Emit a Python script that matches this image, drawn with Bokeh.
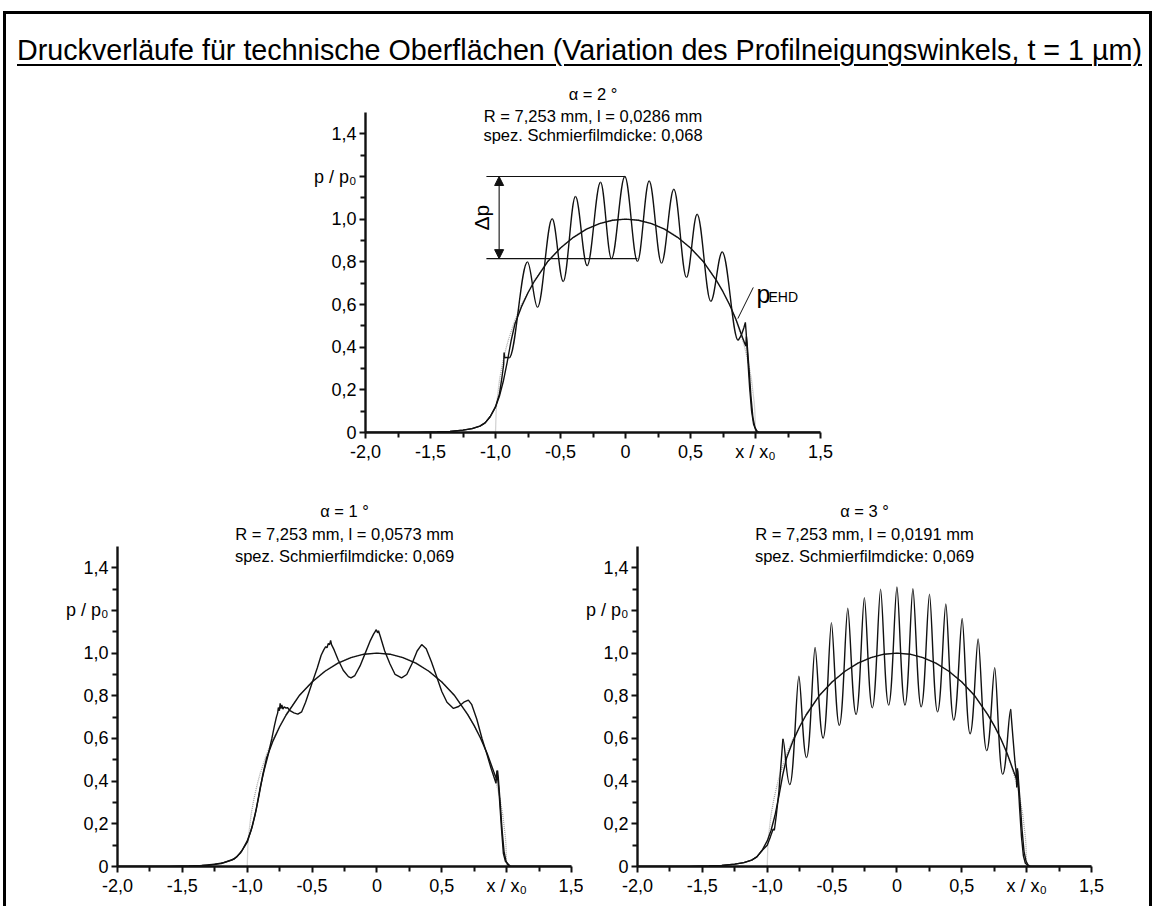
import numpy as np
from bokeh.plotting import figure
from bokeh.layouts import column, row
from bokeh.models import Range1d, FixedTicker, Label, Arrow, NormalHead, Div
from bokeh.embed import file_html
from bokeh.resources import INLINE

# ---------------- data ----------------
TITLE = "Druckverläufe für technische Oberflächen (Variation des Profilneigungswinkels, t = 1 µm)"

x_ticks = [-2.0, -1.5, -1.0, -0.5, 0.0, 0.5, 1.0, 1.5]
x_tick_labels = ["-2,0", "-1,5", "-1,0", "-0,5", "0", "0,5", "x / x₀", "1,5"]
x_minor_ticks = [-1.75, -1.25, -0.75, -0.25, 0.25, 0.75, 1.25]
y_ticks = [0.0, 0.2, 0.4, 0.6, 0.8, 1.0, 1.2, 1.4]
y_tick_labels = ["0", "0,2", "0,4", "0,6", "0,8", "1,0", "p / p₀", "1,4"]
y_minor_ticks = [0.1, 0.3, 0.5, 0.7, 0.9, 1.1, 1.3]

panel_text_a2 = ["α = 2 °", "R = 7,253 mm, l = 0,0286 mm", "spez. Schmierfilmdicke: 0,068"]
panel_text_a1 = ["α = 1 °", "R = 7,253 mm, l = 0,0573 mm", "spez. Schmierfilmdicke: 0,069"]
panel_text_a3 = ["α = 3 °", "R = 7,253 mm, l = 0,0191 mm", "spez. Schmierfilmdicke: 0,069"]

# Hertz pressure (grey dotted)
hertz_x = [-1.0, -0.995, -0.99, -0.97, -0.95, -0.92, -0.9, -0.85, -0.8, -0.7, -0.6, -0.5, -0.4, -0.3,
           -0.2, -0.1, 0.0, 0.1, 0.2, 0.3, 0.4, 0.5, 0.6, 0.7, 0.8, 0.85, 0.9, 0.92, 0.95, 0.97, 0.99,
           0.995, 1.0]
hertz_p = [0.0, 0.1, 0.141, 0.243, 0.312, 0.392, 0.436, 0.527, 0.6, 0.714, 0.8, 0.866, 0.917, 0.954,
           0.98, 0.995, 1.0, 0.995, 0.98, 0.954, 0.917, 0.866, 0.8, 0.714, 0.6, 0.527, 0.436, 0.392,
           0.312, 0.243, 0.141, 0.1, 0.0]

# smooth EHD pressure (black)
ehd_x = [-2.0, -1.6, -1.45, -1.35, -1.25, -1.18, -1.12, -1.08, -1.04, -1.0, -0.97, -0.94, -0.91,
         -0.88, -0.85, -0.8, -0.75, -0.7, -0.6, -0.5, -0.4, -0.3, -0.2, -0.1, 0.0, 0.1, 0.2, 0.3,
         0.4, 0.5, 0.6, 0.7, 0.75, 0.8, 0.85, 0.9, 0.925, 0.93, 0.935, 0.95, 0.965, 0.98, 0.995,
         1.01, 1.03, 1.5]
ehd_p = [0.0, 0.0, 0.002, 0.005, 0.011, 0.018, 0.03, 0.045, 0.075, 0.12, 0.17, 0.24, 0.33,
         0.43, 0.51, 0.59, 0.655, 0.71, 0.8, 0.865, 0.915, 0.953, 0.979, 0.995, 1.0, 0.995, 0.979,
         0.953, 0.915, 0.865, 0.8, 0.712, 0.66, 0.6, 0.53, 0.445, 0.405, 0.45, 0.42, 0.3, 0.17,
         0.07, 0.025, 0.008, 0.0, 0.0]

# alpha = 2 deg rough surface
a2_rise_x = [-2.0, -1.6, -1.45, -1.35, -1.25, -1.18, -1.12, -1.08, -1.04, -1.0, -0.97, -0.95,
             -0.937, -0.934, -0.928, -0.915, -0.895]
a2_rise_p = [0.0, 0.0, 0.002, 0.005, 0.011, 0.018, 0.03, 0.045, 0.075, 0.12, 0.18, 0.26,
             0.32, 0.375, 0.35, 0.352, 0.35]
a2_ext_x = [-0.895, -0.754, -0.677, -0.564, -0.479, -0.385, -0.295, -0.192, -0.108, -0.005,
            0.092, 0.182, 0.277, 0.372, 0.469, 0.551, 0.656, 0.744, 0.867]
a2_ext_p = [0.35, 0.799, 0.587, 1.002, 0.708, 1.106, 0.782, 1.173, 0.815, 1.2,
            0.802, 1.179, 0.794, 1.14, 0.727, 1.023, 0.615, 0.846, 0.432]
a2_tail_x = [0.867, 0.89, 0.91, 0.922, 0.928, 0.94, 0.955, 0.97, 0.985, 1.0, 1.01, 1.5]
a2_tail_p = [0.432, 0.455, 0.49, 0.516, 0.47, 0.35, 0.21, 0.1, 0.04, 0.015, 0.0, 0.0]
a2_dp_upper = 1.2
a2_dp_lower = 0.815

# alpha = 1 deg rough surface
a1_x = [-2.0, -1.6, -1.4, -1.3, -1.2, -1.1, -1.05, -1.0, -0.96, -0.93, -0.9, -0.87, -0.84, -0.81,
        -0.79, -0.775, -0.765, -0.76, -0.752, -0.746, -0.74, -0.733, -0.725, -0.715, -0.7, -0.69,
        -0.67, -0.64, -0.61, -0.58, -0.55, -0.5, -0.46, -0.43, -0.41, -0.395, -0.385, -0.375,
        -0.365, -0.357, -0.35, -0.33, -0.3, -0.26, -0.22, -0.2, -0.17, -0.13, -0.09, -0.05,
        -0.025, -0.015, -0.005, 0.005, 0.012, 0.025, 0.06, 0.1, 0.14, 0.19, 0.23, 0.27, 0.31,
        0.345, 0.38, 0.42, 0.46, 0.5, 0.54, 0.59, 0.63, 0.67, 0.705, 0.73, 0.77, 0.81, 0.846,
        0.88, 0.918, 0.925, 0.94, 0.96, 0.975, 0.99, 1.03, 1.5]
a1_p = [0.0, 0.0, 0.003, 0.006, 0.014, 0.035, 0.065, 0.114, 0.19, 0.27, 0.37, 0.45, 0.52, 0.6,
        0.66, 0.7, 0.72, 0.745, 0.73, 0.765, 0.74, 0.757, 0.738, 0.748, 0.742, 0.745,
        0.73, 0.72, 0.714, 0.725, 0.77, 0.86, 0.93, 0.99, 1.015, 1.03, 1.025, 1.045,
        1.04, 1.06, 1.04, 1.015, 0.97, 0.92, 0.89, 0.884, 0.895, 0.94, 1.0, 1.06,
        1.09, 1.1, 1.11, 1.095, 1.105, 1.08, 1.01, 0.95, 0.9, 0.884, 0.9, 0.95, 1.01,
        1.04, 1.02, 0.96, 0.89, 0.82, 0.77, 0.741, 0.75, 0.77, 0.78, 0.76, 0.69, 0.6, 0.53,
        0.46, 0.39, 0.45, 0.36, 0.18, 0.06, 0.025, 0.0, 0.0]

# alpha = 3 deg rough surface
a3_rise_x = [-2.0, -1.6, -1.45, -1.35, -1.25, -1.18, -1.12, -1.08, -1.04, -1.0, -0.975, -0.955,
             -0.945, -0.93, -0.91, -0.895, -0.879]
a3_rise_p = [0.0, 0.0, 0.002, 0.005, 0.011, 0.018, 0.03, 0.045, 0.075, 0.1, 0.14, 0.175,
             0.17, 0.24, 0.35, 0.47, 0.598]
a3_ext_x = [-0.879, -0.826, -0.756, -0.697, -0.631, -0.569, -0.505, -0.444, -0.379, -0.315,
            -0.251, -0.19, -0.126, -0.064, 0.0, 0.062, 0.123, 0.187, 0.251, 0.313, 0.377,
            0.438, 0.503, 0.564, 0.626, 0.692, 0.754, 0.815, 0.877]
a3_ext_p = [0.598, 0.384, 0.892, 0.511, 1.027, 0.602, 1.143, 0.662, 1.21, 0.713,
            1.26, 0.744, 1.3, 0.757, 1.31, 0.757, 1.302, 0.749, 1.276, 0.725, 1.23,
            0.686, 1.162, 0.622, 1.067, 0.543, 0.932, 0.432, 0.737]
a3_tail_x = [0.877, 0.895, 0.91, 0.918, 0.924, 0.929, 0.935, 0.945, 0.96, 0.975, 0.99, 1.02, 1.5]
a3_tail_p = [0.737, 0.6, 0.49, 0.45, 0.37, 0.46, 0.39, 0.28, 0.14, 0.05, 0.015, 0.0, 0.0]

# ---------------- styling ----------------
FONT = "Liberation Sans"
INK = "#111111"
LW = 1.4


def make_panel(width, height, y_top, b_left, b_right, b_top, b_bottom):
    p = figure(width=width, height=height, x_range=Range1d(-2.0, 1.5), y_range=Range1d(0.0, y_top),
               min_border_left=b_left, min_border_right=b_right, min_border_top=b_top,
               min_border_bottom=b_bottom, toolbar_location=None, output_backend="svg",
               title=None)
    p.outline_line_color = None
    p.xgrid.visible = False
    p.ygrid.visible = False
    p.background_fill_color = "white"
    p.border_fill_color = "white"
    p.xaxis.ticker = FixedTicker(ticks=x_ticks, minor_ticks=x_minor_ticks)
    p.yaxis.ticker = FixedTicker(ticks=y_ticks, minor_ticks=y_minor_ticks)
    p.yaxis.bounds = (0.0, 1.5)
    p.xaxis.major_label_overrides = dict(zip(x_ticks, x_tick_labels))
    p.yaxis.major_label_overrides = dict(zip(y_ticks, y_tick_labels))
    for ax in (p.xaxis[0], p.yaxis[0]):
        ax.axis_line_width = 2.4
        ax.axis_line_color = INK
        ax.major_tick_line_width = 2
        ax.minor_tick_line_width = 2
        ax.major_tick_line_color = INK
        ax.minor_tick_line_color = INK
        ax.major_tick_in = 0
        ax.major_tick_out = 6
        ax.minor_tick_in = 0
        ax.minor_tick_out = 5
        ax.major_label_text_font = FONT
        ax.major_label_text_font_size = "18px"
        ax.major_label_text_color = "black"
        ax.major_label_standoff = 3
    return p


def add_texts(p, lines, ys):
    for t, y in zip(lines, ys):
        p.add_layout(Label(x=-0.25, y=y, text=t, text_font=FONT, text_font_size="16.5px",
                           text_align="center", text_baseline="middle", text_color="black"))


def base_curves(p):
    p.line(hertz_x, hertz_p, line_color="#a8a8a8", line_width=1.3, line_dash="1 1")
    p.line(ehd_x, ehd_p, line_color=INK, line_width=LW)


def wave(p, xs, ps, k_peak, k_trough):
    xs = np.asarray(xs, dtype=float)
    ps = np.asarray(ps, dtype=float)
    x0, x1, y0, y1 = xs[:-1], xs[1:], ps[:-1], ps[1:]
    dx = x1 - x0
    start_peak = y0 > y1
    k0 = np.where(start_peak, k_peak, k_trough)
    k1 = np.where(start_peak, k_trough, k_peak)
    p.bezier(x0=x0, y0=y0, x1=x1, y1=y1, cx0=x0 + k0 * dx, cy0=y0, cx1=x1 - k1 * dx, cy1=y1,
             line_color=INK, line_width=LW)


# ---------------- header (HTML title, underlined) ----------------
title_html = (
    '<div style="position:relative; left:11px; padding-top:20px; '
    'font-family:\'Liberation Sans\', Arial, sans-serif; '
    'font-size:28.7px; line-height:32px; text-align:center; white-space:nowrap; color:black; '
    'text-decoration:underline; text-decoration-thickness:1.5px; text-underline-offset:4px;">'
    + TITLE + '</div>'
)
head = Div(text=title_html, width=1143, height=61, margin=0)

# ---------------- top panel (alpha = 2) ----------------
p_top = make_panel(1143, 420, 1.65, 359, 329, 5, 63)
base_curves(p_top)
p_top.line(a2_rise_x, a2_rise_p, line_color=INK, line_width=LW)
wave(p_top, a2_ext_x, a2_ext_p, 0.36, 0.36)
p_top.line(a2_tail_x, a2_tail_p, line_color=INK, line_width=LW)
# delta p annotation
p_top.segment(x0=[-1.07, -1.07], y0=[a2_dp_upper, a2_dp_lower], x1=[-0.005, 0.092],
              y1=[a2_dp_upper, a2_dp_lower], line_color=INK, line_width=1.1)
p_top.add_layout(Arrow(start=NormalHead(size=9, fill_color=INK, line_color=INK),
                       end=NormalHead(size=9, fill_color=INK, line_color=INK),
                       x_start=-0.972, y_start=a2_dp_lower, x_end=-0.972, y_end=a2_dp_upper,
                       line_color=INK, line_width=1.1))
p_top.add_layout(Label(x=-1.108, y=(a2_dp_upper + a2_dp_lower) / 2, text="Δp", angle=np.pi / 2,
                       text_font=FONT, text_font_size="21px", text_align="center",
                       text_baseline="middle", text_color="black"))
# p_EHD label
p_top.line([0.983, 0.864], [0.68, 0.534], line_color=INK, line_width=1)
p_top.add_layout(Label(x=1.008, y=0.647, text="p", text_font=FONT, text_font_size="25px",
                       text_align="left", text_baseline="alphabetic", text_color="black"))
p_top.add_layout(Label(x=1.1, y=0.633, text="EHD", text_font=FONT, text_font_size="14px",
                       text_align="left", text_baseline="alphabetic", text_color="black"))
add_texts(p_top, panel_text_a2, [1.588, 1.484, 1.395])

# ---------------- bottom left (alpha = 1) ----------------
p_bl = make_panel(577, 411, 1.72, 111, 12, 4, 40)
base_curves(p_bl)
p_bl.line(a1_x, a1_p, line_color=INK, line_width=LW)
add_texts(p_bl, panel_text_a1, [1.667, 1.56, 1.456])

# ---------------- bottom right (alpha = 3) ----------------
p_br = make_panel(566, 411, 1.72, 54, 58, 4, 40)
base_curves(p_br)
p_br.line(a3_rise_x, a3_rise_p, line_color=INK, line_width=LW)
wave(p_br, a3_ext_x, a3_ext_p, 0.26, 0.46)
p_br.line(a3_tail_x, a3_tail_p, line_color=INK, line_width=LW)
add_texts(p_br, panel_text_a3, [1.667, 1.56, 1.456])

layout = column(head, p_top, row(p_bl, p_br),
                styles={"margin-left": "3px", "margin-top": "11px",
                        "border-left": "3px solid black", "border-right": "3px solid black",
                        "border-top": "3px solid black"})

open("out.html", "w").write(file_html(layout, INLINE))
